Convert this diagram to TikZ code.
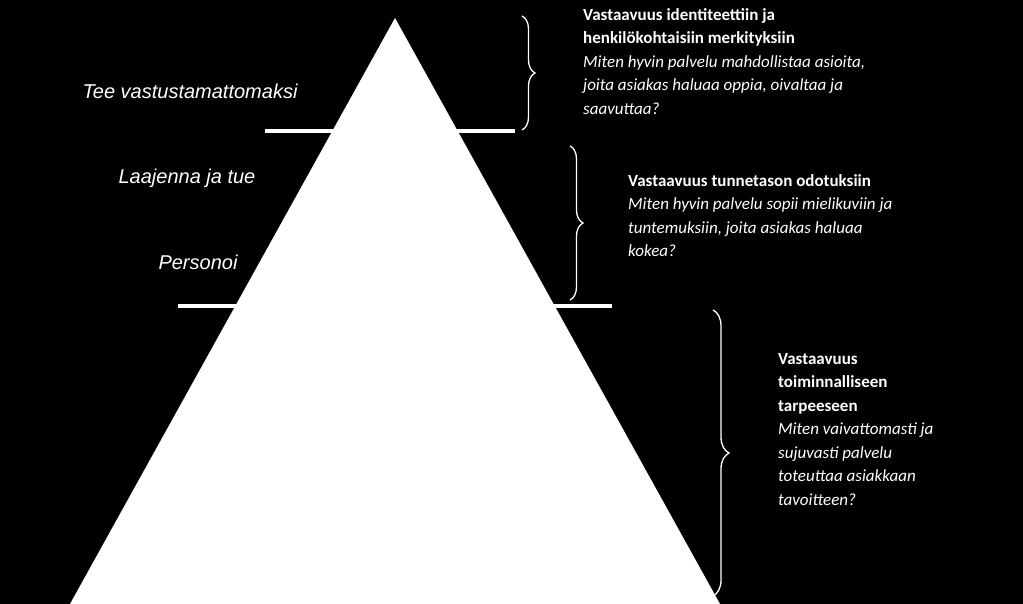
\documentclass[tikz,border=0pt]{standalone}
\usepackage{fontspec}
\setmainfont{Carlito}
\newfontfamily\arialf{Liberation Sans}
\usetikzlibrary{decorations.pathreplacing}
\tikzset{
 lbl/.style={text=white,font=\arialf\itshape\fontsize{20}{24}\selectfont},
 blk/.style={text=white,anchor=north west,align=left,inner sep=0pt,font=\fontsize{17}{23.5}\selectfont},
 br/.style={draw=white,line width=1.3pt,decorate,decoration={brace,amplitude=13pt}},
 bar/.style={draw=white,line width=4.5pt}
}
\begin{document}
\begin{tikzpicture}[x=1pt,y=-1pt]
\fill[black] (0,0) rectangle (1023,604);
\useasboundingbox (0,0) rectangle (1023,604);
\coordinate (a1) at (265,131); \coordinate (a2) at (515,131);
\coordinate (b1) at (178,306); \coordinate (b2) at (612,306);
\draw[bar] (a1) -- (a2);
\draw[bar] (b1) -- (b2);
\fill[white] (395,18) -- (720,604) -- (70,604) -- cycle;
\node[lbl] (l1) at (190,91) {Tee vastustamattomaksi};
\node[lbl] (l2) at (187,178) {Laajenna ja tue};
\node[lbl] (l3) at (198,262) {Personoi};
\coordinate (p1) at (522,16); \coordinate (p2) at (522,130);
\coordinate (q1) at (570,146); \coordinate (q2) at (570,300);
\coordinate (r1) at (713,310); \coordinate (r2) at (713,596);
\draw[br] (p1) -- (p2);
\draw[br] (q1) -- (q2);
\draw[br,decoration={amplitude=16pt}] (r1) -- (r2);
\node[blk] (t1) at (583,8) {\textbf{Vastaavuus identiteettiin ja}\\\textbf{henkilökohtaisiin merkityksiin}\\\textit{Miten hyvin palvelu mahdollistaa asioita,}\\\textit{joita asiakas haluaa oppia, oivaltaa ja}\\\textit{saavuttaa?}};
\node[blk] (t2) at (628,174) {\textbf{Vastaavuus tunnetason odotuksiin}\\\textit{Miten hyvin palvelu sopii mielikuviin ja}\\\textit{tuntemuksiin, joita asiakas haluaa}\\\textit{kokea?}};
\node[blk] (t3) at (778,353) {\textbf{Vastaavuus}\\\textbf{toiminnalliseen}\\\textbf{tarpeeseen}\\\textit{Miten vaivattomasti ja}\\\textit{sujuvasti palvelu}\\\textit{toteuttaa asiakkaan}\\\textit{tavoitteen?}};
\end{tikzpicture}
\end{document}
